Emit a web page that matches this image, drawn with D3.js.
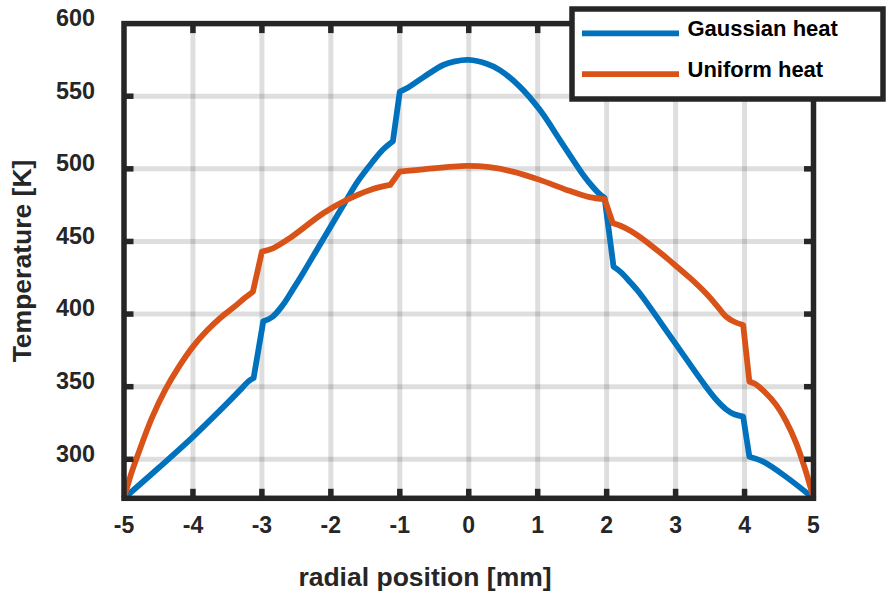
<!DOCTYPE html>
<html>
<head>
<meta charset="utf-8">
<script src="https://cdn.jsdelivr.net/npm/d3@7"></script>
<style>
  html, body { margin: 0; padding: 0; background: #fff; }
  svg { display: block; }
  text { font-family: "Liberation Sans", Arial, Helvetica, sans-serif; font-weight: bold; }
</style>
</head>
<body>
<svg id="chart" width="886" height="596"></svg>
<script>
// Radial temperature profiles across the layered disc
const gaussX = [-5, -4.5, -4.0, -3.6, -3.3, -3.2, -3.12,
  -2.98, -2.85, -2.7, -2.55, -2.4, -2.2, -2.0, -1.8, -1.6, -1.4, -1.25, -1.1,
  -1.0, -0.9, -0.66, -0.37, -0.2, 0, 0.25, 0.45, 0.74, 1.03, 1.32, 1.5, 1.65, 1.8, 1.9, 1.97,
  2.1, 2.2, 2.35, 2.48, 2.96, 3.44, 3.6, 3.73, 3.85, 3.98,
  4.07, 4.27, 4.6, 5];
const gaussT = [273.15, 294, 315.5, 334, 348.5, 353.5, 356,
  395, 398, 406, 417, 428.5, 444.5, 460.5, 476.5, 492, 504.5, 513, 519,
  553.2, 555.5, 563, 571.5, 574, 575, 572.5, 568, 556.6, 540.6, 520, 507, 496.5, 487.5, 482.5, 480,
  432.6, 429, 421.5, 414.3, 382.2, 350, 340.5, 334.5, 331, 329.4,
  301.8, 298.4, 288, 273.15];

const uniformX = [-5, -4.9, -4.8, -4.6, -4.4, -4.2, -4.0, -3.8, -3.6, -3.4, -3.25, -3.13,
  -3.0, -2.84, -2.59, -2.11, -1.77, -1.43, -1.14,
  -1.0, -0.66, -0.03, 0.3, 0.64, 1.03, 1.42, 1.75, 1.97,
  2.09, 2.2, 2.35, 2.5, 2.77, 2.96, 3.2, 3.44, 3.6, 3.73, 3.85, 3.98,
  4.07, 4.15, 4.3, 4.45, 4.6, 4.75, 4.88, 5];
const uniformT = [273.15, 289.5, 303, 328, 348, 364, 377.6, 388.5, 397.5, 405, 411, 415.4,
  443, 445.3, 452.5, 469.4, 478.6, 485.5, 488.9,
  498.1, 499.7, 502, 501.1, 498.1, 492.4, 485.5, 480.5, 479.1,
  462.5, 460.8, 457.2, 452.5, 442.5, 435, 425.2, 414.3, 405.7, 398.3, 394.7, 392.5,
  353.5, 352, 346, 338, 326.5, 311, 293, 273.15];

// Layer interfaces where the profiles step
const interfaces = [-3, -1, 2, 4];

const seriesNames = ["Gaussian heat", "Uniform heat"];
const seriesColors = ["#0072BD", "#D95319"];

const xTicks = [-5, -4, -3, -2, -1, 0, 1, 2, 3, 4, 5];
const yTicks = [300, 350, 400, 450, 500, 550, 600];
const xDomain = [-5, 5];
const yDomain = [273.15, 600];

const xLabel = "radial position [mm]";
const yLabel = "Temperature [K]";

// Layout
const plot = { left: 124, right: 813.5, top: 23.6, bottom: 498.3 };
const axisColor = "#262626";
const frameWidth = 5.5;
const tickLen = 9.5;

const svg = d3.select("#chart");
const x = d3.scaleLinear().domain(xDomain).range([plot.left, plot.right]);
const y = d3.scaleLinear().domain(yDomain).range([plot.bottom, plot.top]);

// Grid
const grid = svg.append("g").attr("stroke", "rgba(0,0,0,0.13)").attr("stroke-width", 5);
grid.selectAll("line.gx").data(xTicks.slice(1, -1)).join("line")
  .attr("x1", d => x(d)).attr("x2", d => x(d))
  .attr("y1", plot.top).attr("y2", plot.bottom);
grid.selectAll("line.gy").data(yTicks.slice(0, -1)).join("line")
  .attr("x1", plot.left).attr("x2", plot.right)
  .attr("y1", d => y(d)).attr("y2", d => y(d));

// Data lines: smooth within each layer, straight across each interface
const smooth = d3.line().x(d => x(d[0])).y(d => y(d[1])).curve(d3.curveCatmullRom.alpha(0.5));
function layeredPath(xs, ts) {
  const pts = xs.map((v, i) => [v, ts[i]]);
  const runs = [[pts[0]]];
  for (let i = 1; i < pts.length; i++) {
    const a = pts[i - 1][0], b = pts[i][0];
    if (interfaces.some(e => a < e && e <= b)) runs.push([]);
    runs[runs.length - 1].push(pts[i]);
  }
  return runs.map((r, k) => {
    const s = smooth(r);
    return k === 0 ? s : "L" + s.slice(1);
  }).join("");
}
const series = [[gaussX, gaussT], [uniformX, uniformT]];
svg.append("g").selectAll("path").data(series).join("path")
  .attr("d", d => layeredPath(d[0], d[1]))
  .attr("fill", "none")
  .attr("stroke", (d, i) => seriesColors[i])
  .attr("stroke-width", 5.8)
  .attr("stroke-linejoin", "round");

// Frame and inward ticks
const frame = svg.append("g").attr("stroke", axisColor).attr("stroke-width", frameWidth);
frame.append("rect")
  .attr("x", plot.left).attr("y", plot.top)
  .attr("width", plot.right - plot.left).attr("height", plot.bottom - plot.top)
  .attr("fill", "none").attr("stroke-linejoin", "miter");
const tickX = xTicks.slice(1, -1);
frame.selectAll("line.tb").data(tickX).join("line")
  .attr("x1", d => x(d)).attr("x2", d => x(d))
  .attr("y1", plot.bottom).attr("y2", plot.bottom - tickLen);
frame.selectAll("line.tt").data(tickX).join("line")
  .attr("x1", d => x(d)).attr("x2", d => x(d))
  .attr("y1", plot.top).attr("y2", plot.top + tickLen);
const tickY = yTicks.slice(0, -1);
frame.selectAll("line.tl").data(tickY).join("line")
  .attr("x1", plot.left).attr("x2", plot.left + tickLen)
  .attr("y1", d => y(d)).attr("y2", d => y(d));
frame.selectAll("line.tr").data(tickY).join("line")
  .attr("x1", plot.right).attr("x2", plot.right - tickLen)
  .attr("y1", d => y(d)).attr("y2", d => y(d));

// Tick labels
svg.append("g").selectAll("text").data(xTicks).join("text")
  .attr("x", d => x(d)).attr("y", plot.bottom + 34.7)
  .attr("text-anchor", "middle").attr("font-size", 23).attr("fill", axisColor)
  .text(d => d);
svg.append("g").selectAll("text").data(yTicks).join("text")
  .attr("x", 95).attr("y", d => y(d) + 2.4)
  .attr("text-anchor", "end").attr("font-size", 23.4).attr("fill", axisColor)
  .text(d => d);

// Axis titles
svg.append("text")
  .attr("x", 425).attr("y", 586)
  .attr("text-anchor", "middle").attr("font-size", 26.5).attr("fill", axisColor)
  .text(xLabel);
svg.append("text")
  .attr("transform", `translate(31, 261) rotate(-90)`)
  .attr("text-anchor", "middle").attr("font-size", 26.5).attr("fill", axisColor)
  .text(yLabel);

// Legend
const leg = svg.append("g");
leg.append("rect")
  .attr("x", 572).attr("y", 9).attr("width", 311).attr("height", 90)
  .attr("fill", "#fff").attr("stroke", axisColor).attr("stroke-width", frameWidth);
const legRows = [33.3, 74.2];
seriesNames.forEach((name, i) => {
  leg.append("line")
    .attr("x1", 582).attr("x2", 679).attr("y1", legRows[i]).attr("y2", legRows[i])
    .attr("stroke", seriesColors[i]).attr("stroke-width", 5.8);
  leg.append("text")
    .attr("x", 687.5).attr("y", legRows[i] + 2.4)
    .attr("font-size", 22).attr("fill", "#000")
    .text(name);
});
</script>
</body>
</html>
